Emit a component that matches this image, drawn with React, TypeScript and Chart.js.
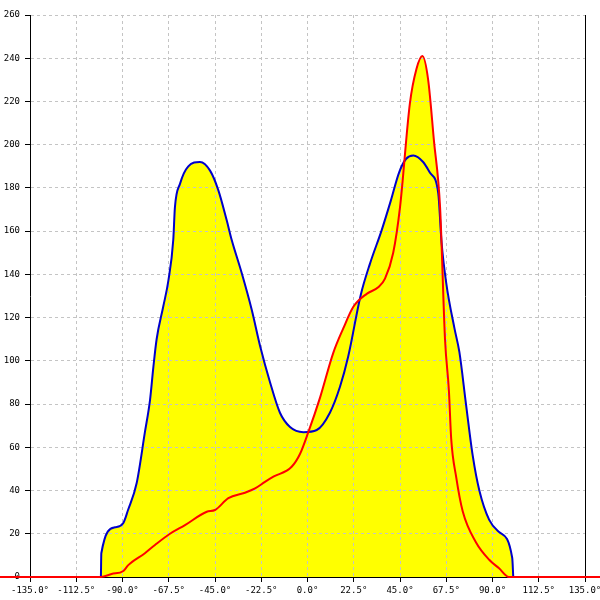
import React, { useEffect, useRef } from "react";
import { Chart, registerables } from "chart.js";

Chart.register(...registerables);

// Angles (degrees) and values
const blueAngles = [
  -100.5, -100.3, -93.6, -89.6, -87.3, -83.1, -79.1, -76.6, -75, -73.4, -70.2, -67.7,
  -65.3, -64.5, -62, -58, -52.3, -47.4, -43.4, -39.3, -36.9, -32, -27.1, -23.1,
  -18.2, -13.4, -8.5, -2, 4.5, 10.9, 15.8, 19.8, 25.9, 30.4, 36.1, 40.5, 44.5, 48, 51.5,
  56.25, 59.6, 63.6, 65.2, 67.5, 71.5, 73.9, 77.1, 80.4, 83.6, 88.4, 93.2, 99.6, 100.1,
];
const blueValues = [
  0, 11, 23, 25, 31, 43.5, 67, 82, 97, 110, 125, 137,
  156, 171, 182, 190, 192, 188, 179, 165, 156, 140.6, 123.5, 107,
  90, 76, 69.4, 67, 68, 76, 88, 102, 130.5, 145, 160.5, 174, 187, 193.5, 195,
  192, 187, 177.6, 155, 136, 115, 104, 80, 56, 40, 26.4, 20.8, 8.8, 0,
];

const redAngles = [
  -150, -100.5, -95.3, -89.6, -87.2, -79.1, -74.2, -66.9, -59.6, -49, -45, -38.5,
  -30.4, -25.5, -20.7, -16.6, -7.7, -3.6, 0.4, 6.1, 12.5, 17.4, 22.3, 28.8, 34.4,
  37.7, 41.7, 45, 49.8, 53, 55.9, 58.7, 61.5, 64.5, 66.9, 68.8, 69.9, 72.3, 75.5,
  82, 88.4, 93.2, 98, 145,
];
const redValues = [
  0, 0, 1.4, 2.8, 5.5, 11, 14.8, 20, 24, 30.2, 31, 36.5,
  39, 41, 44, 46.4, 51, 57, 67, 83, 103.6, 115, 125, 131, 134,
  138, 150, 171, 219, 235, 241, 230, 202, 171, 110, 86, 64, 46.4, 30.4,
  16, 8, 4, 0, 0,
];

const xMin = -135;
const xMax = 135;
const xStep = 22.5;
const yMin = 0;
const yMax = 260;
const yStep = 20;

const toPoints = (xs: number[], ys: number[]) => xs.map((x, i) => ({ x, y: ys[i] }));

const tickFont = { family: "'DejaVu Sans Mono', monospace", size: 9 };
const gridColor = "#c4c4c4";

export default function App() {
  const ref = useRef<HTMLCanvasElement | null>(null);

  useEffect(() => {
    if (!ref.current) return;
    const chart = new Chart(ref.current, {
      type: "line",
      data: {
        datasets: [
          {
            label: "red",
            data: toPoints(redAngles, redValues),
            borderColor: "#ff0000",
            backgroundColor: "#ffff00",
            borderWidth: 2,
            pointRadius: 0,
            fill: "origin",
            cubicInterpolationMode: "monotone",
            clip: false as any,
            order: 0,
          },
          {
            label: "blue",
            data: toPoints(blueAngles, blueValues),
            borderColor: "#0000cc",
            backgroundColor: "#ffff00",
            borderWidth: 2,
            pointRadius: 0,
            fill: "origin",
            cubicInterpolationMode: "monotone",
            order: 1,
          },
        ],
      },
      options: {
        animation: false,
        responsive: false,
        maintainAspectRatio: false,
        layout: { padding: { top: 15, right: 15, left: 0, bottom: 0 } },
        plugins: {
          legend: { display: false },
          tooltip: { enabled: false },
          filler: { drawTime: "beforeDraw" } as any,
        },
        scales: {
          x: {
            type: "linear",
            min: xMin,
            max: xMax,
            ticks: {
              stepSize: xStep,
              autoSkip: false,
              maxRotation: 0,
              padding: 3,
              color: "#000",
              font: tickFont,
              callback: (v: any) => Number(v).toFixed(1) + "°",
            },
            grid: {
              color: gridColor,
              lineWidth: 1,
              tickLength: 5,
              tickColor: "#000",
              tickBorderDash: [],
            } as any,
            border: { display: true, color: "#000", width: 1, dash: [3, 3] },
            afterFit: (s: any) => {
              s.height = 23;
              s.paddingLeft = 0;
              s.paddingRight = 0;
            },
          },
          y: {
            type: "linear",
            position: "left",
            min: yMin,
            max: yMax,
            ticks: {
              stepSize: yStep,
              padding: 5,
              color: "#000",
              font: tickFont,
            },
            grid: {
              color: gridColor,
              lineWidth: 1,
              tickLength: 5,
              tickColor: "#000",
              tickBorderDash: [],
            } as any,
            border: { display: true, color: "#000", width: 1, dash: [3, 3] },
            afterFit: (s: any) => {
              s.width = 30;
              s.paddingTop = 0;
              s.paddingBottom = 0;
            },
          },
          y2: {
            type: "linear",
            position: "right",
            min: yMin,
            max: yMax,
            ticks: { display: false },
            grid: { drawOnChartArea: false, drawTicks: false },
            border: { display: true, color: "#000", width: 1 },
            afterFit: (s: any) => {
              s.width = 0;
              s.paddingTop = 0;
              s.paddingBottom = 0;
            },
          },
        },
      },
    });
    return () => chart.destroy();
  }, []);

  return (
    <div style={{ position: "absolute", left: 0, top: 0, width: 600, height: 600, background: "#fff" }}>
      <canvas ref={ref} width={600} height={600} style={{ display: "block" }} />
    </div>
  );
}
